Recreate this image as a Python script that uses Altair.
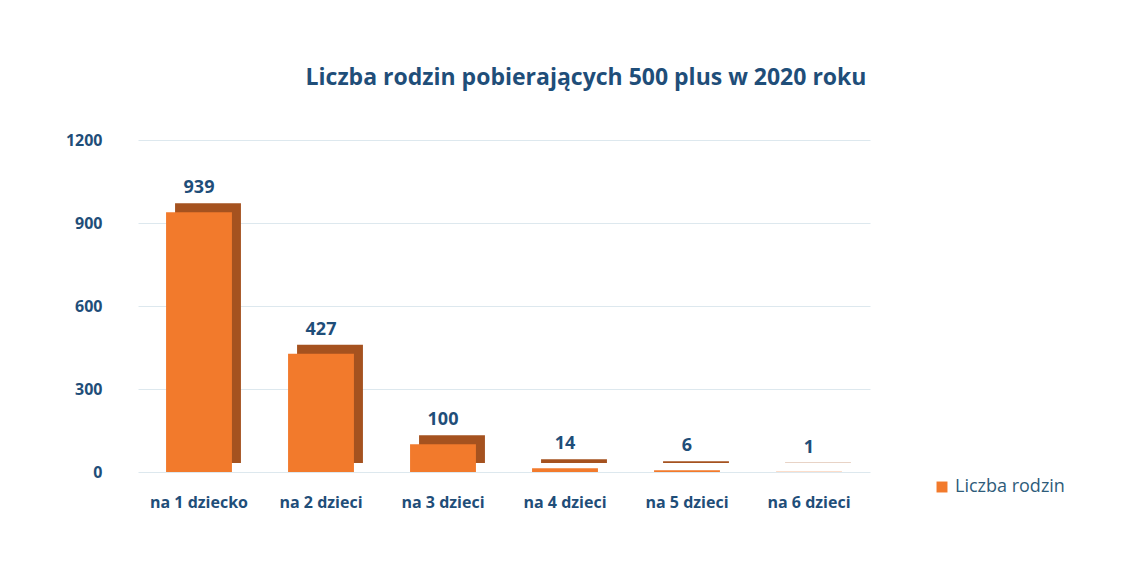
import altair as alt
import pandas as pd

categories = ["na 1 dziecko", "na 2 dzieci", "na 3 dzieci", "na 4 dzieci", "na 5 dzieci", "na 6 dzieci"]
values = [939, 427, 100, 14, 6, 1]
series_name = "Liczba rodzin"
y_ticks = [0, 300, 600, 900, 1200]

df = pd.DataFrame({"kategoria": categories, "wartosc": values, "seria": [series_name] * len(values)})

navy = "#1F4E79"
x_enc = alt.X("kategoria:N", sort=categories, title=None,
              scale=alt.Scale(paddingInner=0.46, paddingOuter=0.23),
              axis=alt.Axis(labelAngle=0, labelFontSize=16, labelFontWeight="bold", labelColor=navy,
                            labelFont="Open Sans", labelPadding=22, ticks=False, domain=False))
y_enc = alt.Y("wartosc:Q", title=None,
              scale=alt.Scale(domain=[0, 1200]),
              axis=alt.Axis(values=y_ticks, format="d", labelFontSize=16, labelFontWeight="bold",
                            labelColor=navy, labelFont="Open Sans", labelPadding=36, ticks=False,
                            domain=False, grid=True, gridColor="#dde8ee", gridWidth=1))

base = alt.Chart(df)

side = base.mark_bar(color="#a5521f", xOffset=9, yOffset=-9).encode(x=x_enc, y=y_enc)
front = base.mark_bar().encode(
    x=x_enc, y=y_enc,
    color=alt.Color("seria:N", scale=alt.Scale(range=["#f27a2c"]),
                    legend=alt.Legend(title=None, orient="none", legendX=795, legendY=338,
                                      symbolType="square", symbolSize=120, labelFontSize=18,
                                      labelColor="#2e5c7a", labelFont="Open Sans", labelLimit=300)))
labels = base.mark_text(dy=-24, fontSize=18, fontWeight="bold", color=navy, font="Open Sans").encode(
    x=x_enc, y=y_enc, text="wartosc:Q")

chart = alt.layer(side, front, labels).properties(
    width=732, height=332,
    background="white",
    autosize=alt.AutoSizeParams(type="none"),
    padding={"left": 130, "top": 132, "right": 255, "bottom": 60},
    title=alt.TitleParams("Liczba rodzin pobierających 500 plus w 2020 roku", fontSize=23,
                          fontWeight="bold", color=navy, font="Open Sans", anchor="middle",
                          dx=82, offset=42),
).configure_view(strokeWidth=0)

chart.save("out.html", embed_options={"renderer": "svg", "actions": False})
